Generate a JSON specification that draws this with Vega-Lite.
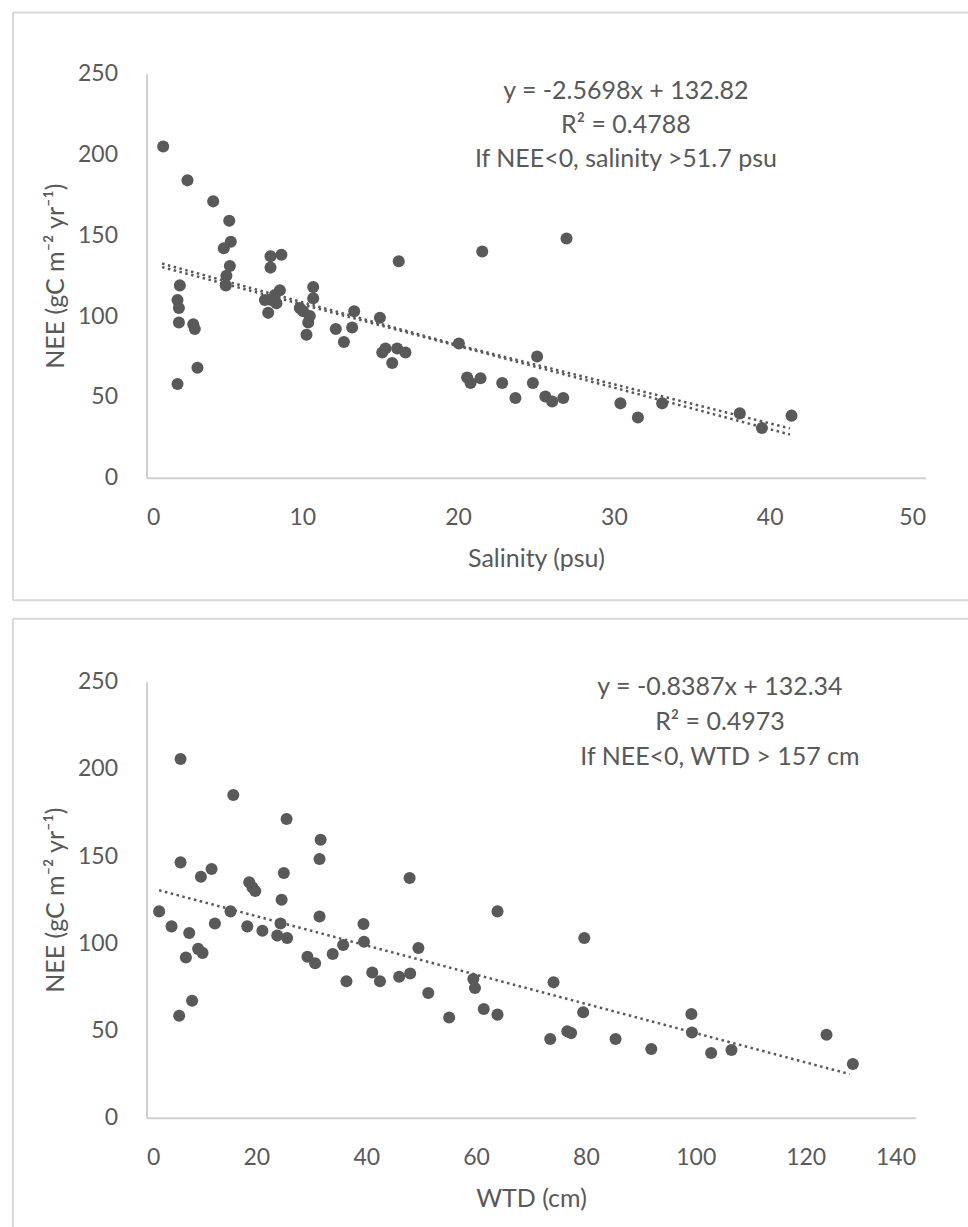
{
  "$schema": "https://vega.github.io/schema/vega-lite/v6.json",
  "padding": {"left": 11.5, "top": 10.7, "right": 0, "bottom": 0},
  "background": "white",
  "bounds": "flush",
  "spacing": 204,
  "config": {
    "font": "Lato",
    "view": {"stroke": null},
    "axis": {
      "grid": false,
      "ticks": false,
      "domainColor": "#d0d0d0",
      "domainWidth": 2,
      "labelColor": "#595959",
      "titleColor": "#595959",
      "labelFont": "Lato",
      "titleFont": "Lato",
      "labelFontSize": 23,
      "titleFontSize": 25,
      "titleFontWeight": "normal"
    }
  },
  "datasets": {
    "sal": [
      {"salinity": 1.07, "nee": 205}, {"salinity": 2.63, "nee": 184}, {"salinity": 4.28, "nee": 171},
      {"salinity": 5.31, "nee": 159}, {"salinity": 5.41, "nee": 146}, {"salinity": 4.96, "nee": 142},
      {"salinity": 5.35, "nee": 131}, {"salinity": 5.13, "nee": 125}, {"salinity": 5.09, "nee": 119},
      {"salinity": 2.14, "nee": 119}, {"salinity": 1.99, "nee": 110}, {"salinity": 2.08, "nee": 105},
      {"salinity": 2.08, "nee": 96}, {"salinity": 3.0, "nee": 95}, {"salinity": 3.1, "nee": 92},
      {"salinity": 3.27, "nee": 68}, {"salinity": 1.99, "nee": 58}, {"salinity": 7.96, "nee": 137},
      {"salinity": 8.66, "nee": 138}, {"salinity": 7.96, "nee": 130}, {"salinity": 8.56, "nee": 116},
      {"salinity": 8.24, "nee": 113}, {"salinity": 7.6, "nee": 110}, {"salinity": 8.34, "nee": 108},
      {"salinity": 7.81, "nee": 102}, {"salinity": 8.0, "nee": 110}, {"salinity": 10.7, "nee": 118},
      {"salinity": 10.7, "nee": 111}, {"salinity": 10.06, "nee": 103}, {"salinity": 10.48, "nee": 100},
      {"salinity": 10.38, "nee": 96}, {"salinity": 10.27, "nee": 88.5}, {"salinity": 9.84, "nee": 105},
      {"salinity": 12.15, "nee": 92}, {"salinity": 12.67, "nee": 84}, {"salinity": 13.33, "nee": 103},
      {"salinity": 13.2, "nee": 93}, {"salinity": 14.98, "nee": 99}, {"salinity": 16.19, "nee": 134},
      {"salinity": 21.55, "nee": 140}, {"salinity": 26.96, "nee": 148}, {"salinity": 15.34, "nee": 80},
      {"salinity": 16.09, "nee": 80}, {"salinity": 16.62, "nee": 77.5}, {"salinity": 15.13, "nee": 77.5},
      {"salinity": 15.77, "nee": 71}, {"salinity": 20.05, "nee": 83}, {"salinity": 20.58, "nee": 62},
      {"salinity": 20.8, "nee": 58.6}, {"salinity": 21.44, "nee": 61.6}, {"salinity": 22.83, "nee": 58.6},
      {"salinity": 23.68, "nee": 49.3}, {"salinity": 25.07, "nee": 75}, {"salinity": 24.8, "nee": 58.6},
      {"salinity": 25.6, "nee": 50.3}, {"salinity": 26.04, "nee": 47.2}, {"salinity": 26.75, "nee": 49.3},
      {"salinity": 30.42, "nee": 46}, {"salinity": 31.54, "nee": 37.3}, {"salinity": 33.1, "nee": 46},
      {"salinity": 38.08, "nee": 39.8}, {"salinity": 39.5, "nee": 30.8}, {"salinity": 41.4, "nee": 38.4}
    ],
    "salTrend": [
      {"salinity": 1.0, "nee": 130.3, "fit": "linear"},
      {"salinity": 41.3, "nee": 26.7, "fit": "linear"},
      {"salinity": 1.0, "nee": 132.5, "fit": "second"},
      {"salinity": 20.0, "nee": 82.0, "fit": "second"},
      {"salinity": 41.3, "nee": 30.5, "fit": "second"}
    ],
    "wtd": [
      {"wtd": 6.2, "nee": 205.7}, {"wtd": 15.8, "nee": 185}, {"wtd": 25.5, "nee": 171.3},
      {"wtd": 31.7, "nee": 159.4}, {"wtd": 31.5, "nee": 148.3}, {"wtd": 6.2, "nee": 146.4},
      {"wtd": 11.85, "nee": 142.6}, {"wtd": 9.9, "nee": 138.2}, {"wtd": 18.7, "nee": 135},
      {"wtd": 19.3, "nee": 132}, {"wtd": 19.8, "nee": 130}, {"wtd": 25.0, "nee": 140.3},
      {"wtd": 24.6, "nee": 125}, {"wtd": 2.3, "nee": 118.3}, {"wtd": 15.3, "nee": 118.3},
      {"wtd": 31.5, "nee": 115.4}, {"wtd": 4.56, "nee": 109.7}, {"wtd": 7.78, "nee": 105.9},
      {"wtd": 12.45, "nee": 111.4}, {"wtd": 18.35, "nee": 109.7}, {"wtd": 21.1, "nee": 107.2},
      {"wtd": 24.4, "nee": 111.4}, {"wtd": 23.8, "nee": 104.4}, {"wtd": 25.6, "nee": 103},
      {"wtd": 7.17, "nee": 91.9}, {"wtd": 9.4, "nee": 96.8}, {"wtd": 10.2, "nee": 94.5},
      {"wtd": 8.3, "nee": 67.1}, {"wtd": 5.95, "nee": 58.5}, {"wtd": 29.3, "nee": 92.3},
      {"wtd": 30.7, "nee": 88.5}, {"wtd": 33.9, "nee": 93.8}, {"wtd": 35.8, "nee": 99},
      {"wtd": 36.4, "nee": 78.2}, {"wtd": 47.9, "nee": 137.4}, {"wtd": 63.9, "nee": 118.3},
      {"wtd": 39.5, "nee": 111}, {"wtd": 39.6, "nee": 100.9}, {"wtd": 49.5, "nee": 97.3},
      {"wtd": 41.1, "nee": 83.3}, {"wtd": 42.5, "nee": 78.2}, {"wtd": 46.0, "nee": 80.8},
      {"wtd": 48.0, "nee": 82.7}, {"wtd": 51.3, "nee": 71.5}, {"wtd": 55.1, "nee": 57.5},
      {"wtd": 59.5, "nee": 79.5}, {"wtd": 59.8, "nee": 74.4}, {"wtd": 61.4, "nee": 62.3},
      {"wtd": 63.9, "nee": 59.1}, {"wtd": 74.1, "nee": 77.6}, {"wtd": 73.5, "nee": 45.1},
      {"wtd": 79.7, "nee": 103}, {"wtd": 79.5, "nee": 60.4}, {"wtd": 76.6, "nee": 49.5},
      {"wtd": 77.3, "nee": 48.5}, {"wtd": 85.4, "nee": 45.1}, {"wtd": 91.9, "nee": 39.4},
      {"wtd": 99.2, "nee": 59.5}, {"wtd": 99.3, "nee": 48.9}, {"wtd": 102.8, "nee": 37.1},
      {"wtd": 106.5, "nee": 38.8}, {"wtd": 123.8, "nee": 47.6}, {"wtd": 128.6, "nee": 30.8}
    ],
    "wtdTrend": [
      {"wtd": 2.3, "nee": 130.4},
      {"wtd": 128.0, "nee": 25.0}
    ]
  },
  "vconcat": [
    {
      "width": 779,
      "height": 404,
      "layer": [
        {
          "data": {"values": [{}]},
          "mark": {"type": "rule", "color": "#d9d9d9", "strokeWidth": 2},
          "encoding": {
            "x": {"datum": -8.57, "type": "quantitative"},
            "y": {"datum": 287.9, "type": "quantitative"},
            "y2": {"datum": -75.9}
          }
        },
        {
          "data": {"values": [{}]},
          "mark": {"type": "rule", "color": "#d9d9d9", "strokeWidth": 2},
          "encoding": {
            "x": {"datum": -8.57, "type": "quantitative"},
            "x2": {"datum": 52.76},
            "y": {"datum": 287.9, "type": "quantitative"}
          }
        },
        {
          "data": {"values": [{}]},
          "mark": {"type": "rule", "color": "#d9d9d9", "strokeWidth": 2},
          "encoding": {
            "x": {"datum": -8.57, "type": "quantitative"},
            "x2": {"datum": 52.76},
            "y": {"datum": -75.9, "type": "quantitative"}
          }
        },
        {
          "data": {"name": "salTrend"},
          "mark": {"type": "line", "color": "#595959", "strokeWidth": 2.5, "strokeDash": [2.5, 3.5]},
          "encoding": {
            "x": {"field": "salinity", "type": "quantitative"},
            "y": {"field": "nee", "type": "quantitative"},
            "detail": {"field": "fit"}
          }
        },
        {
          "data": {"name": "sal"},
          "mark": {"type": "point", "filled": true, "shape": "circle", "size": 145, "color": "#595959", "opacity": 1},
          "encoding": {
            "x": {
              "field": "salinity", "type": "quantitative",
              "scale": {"domain": [0, 50], "nice": false, "zero": true},
              "axis": {"values": [0, 10, 20, 30, 40, 50], "title": "Salinity (psu)", "labelPadding": 29, "titlePadding": 17}
            },
            "y": {
              "field": "nee", "type": "quantitative",
              "scale": {"domain": [0, 250], "nice": false},
              "axis": {"values": [0, 50, 100, 150, 200, 250], "title": "NEE (gC m⁻² yr⁻¹)", "labelPadding": 29, "titlePadding": 9}
            }
          }
        },
        {
          "data": {"values": [{}]},
          "mark": {"type": "text", "font": "Lato", "fontSize": 25, "color": "#595959", "align": "center", "baseline": "middle", "lineHeight": 34,
            "text": ["y = -2.5698x + 132.82", "R² = 0.4788", "If NEE<0, salinity >51.7 psu"]},
          "encoding": {
            "x": {"datum": 30.77, "type": "quantitative"},
            "y": {"datum": 239.1, "type": "quantitative"}
          }
        }
      ]
    },
    {
      "width": 769,
      "height": 436,
      "layer": [
        {
          "data": {"values": [{}]},
          "mark": {"type": "rule", "color": "#d9d9d9", "strokeWidth": 2},
          "encoding": {
            "x": {"datum": -24.33, "type": "quantitative"},
            "y": {"datum": 286.1, "type": "quantitative"},
            "y2": {"datum": -63.1}
          }
        },
        {
          "data": {"values": [{}]},
          "mark": {"type": "rule", "color": "#d9d9d9", "strokeWidth": 2},
          "encoding": {
            "x": {"datum": -24.33, "type": "quantitative"},
            "x2": {"datum": 149.8},
            "y": {"datum": 286.1, "type": "quantitative"}
          }
        },
        {
          "data": {"name": "wtdTrend"},
          "mark": {"type": "line", "color": "#595959", "strokeWidth": 2.5, "strokeDash": [2.5, 3.5]},
          "encoding": {
            "x": {"field": "wtd", "type": "quantitative"},
            "y": {"field": "nee", "type": "quantitative"}
          }
        },
        {
          "data": {"name": "wtd"},
          "mark": {"type": "point", "filled": true, "shape": "circle", "size": 145, "color": "#595959", "opacity": 1},
          "encoding": {
            "x": {
              "field": "wtd", "type": "quantitative",
              "scale": {"domain": [0, 140], "nice": false},
              "axis": {"values": [0, 20, 40, 60, 80, 100, 120, 140], "title": "WTD (cm)", "labelPadding": 29, "titlePadding": 17}
            },
            "y": {
              "field": "nee", "type": "quantitative",
              "scale": {"domain": [0, 250], "nice": false},
              "axis": {"values": [0, 50, 100, 150, 200, 250], "title": "NEE (gC m⁻² yr⁻¹)", "labelPadding": 29, "titlePadding": 9}
            }
          }
        },
        {
          "data": {"values": [{}]},
          "mark": {"type": "text", "font": "Lato", "fontSize": 25, "color": "#595959", "align": "center", "baseline": "middle", "lineHeight": 35,
            "text": ["y = -0.8387x + 132.34", "R² = 0.4973", "If NEE<0, WTD > 157 cm"]},
          "encoding": {
            "x": {"datum": 104.4, "type": "quantitative"},
            "y": {"datum": 246.7, "type": "quantitative"}
          }
        }
      ]
    }
  ]
}
